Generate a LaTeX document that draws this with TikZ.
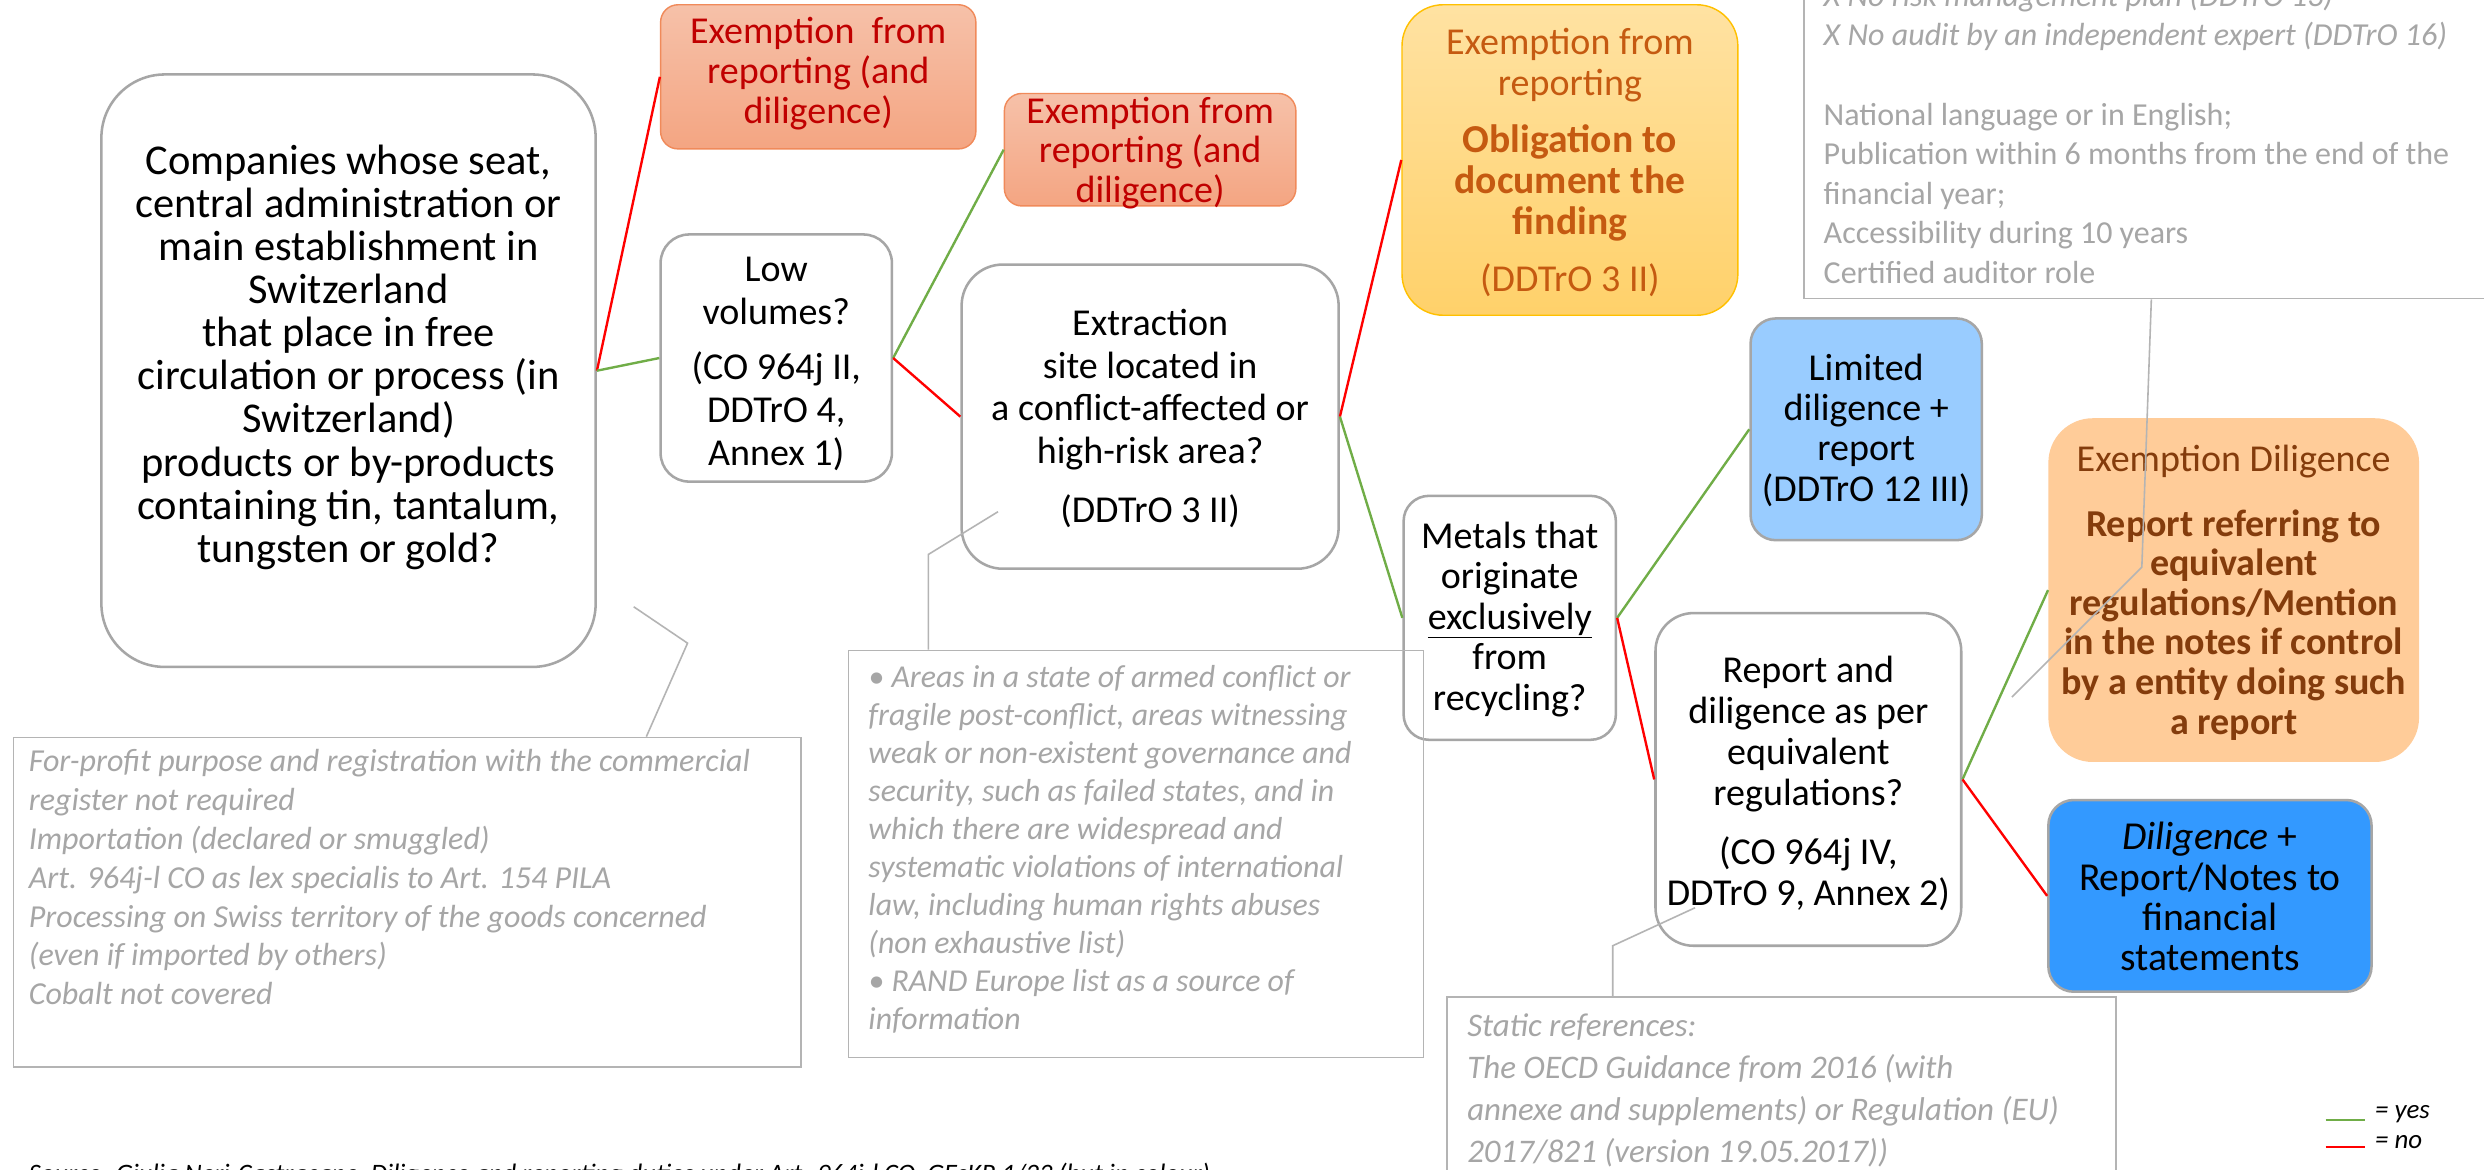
\documentclass[tikz,border=0pt]{standalone}
\usepackage{fontspec}
\setmainfont{Carlito}
\definecolor{boxgray}{HTML}{A6A6A6}
\definecolor{notegray}{HTML}{B4B4B4}
\definecolor{notetext}{HTML}{A6A6A6}
\definecolor{yesgreen}{HTML}{70AD47}
\definecolor{nored}{HTML}{FF0000}
\definecolor{salmontop}{HTML}{F6C1A9}
\definecolor{salmonbot}{HTML}{F4A582}
\definecolor{salmonline}{HTML}{F08A5A}
\definecolor{darkred}{HTML}{C00000}
\definecolor{yeltop}{HTML}{FFE2A2}
\definecolor{yelbot}{HTML}{FFD16A}
\definecolor{yelline}{HTML}{FFC000}
\definecolor{yeltext}{HTML}{C55A11}
\definecolor{lightblue}{HTML}{99CCFF}
\definecolor{midblue}{HTML}{3399FF}
\definecolor{peach}{HTML}{FFCC99}
\definecolor{brown}{HTML}{843C0C}
\begin{document}
\begin{tikzpicture}[x=1pt,y=-1pt,
  qbox/.style={draw=boxgray,line width=1.6pt,fill=white,inner sep=0pt},
  salbox/.style={draw=salmonline,line width=0.9pt,top color=salmontop,bottom color=salmonbot,inner sep=0pt,rounded corners=11pt},
  notebox/.style={draw=notegray,line width=1.1pt,inner sep=0pt},
  txt/.style={align=center,inner sep=0pt},
  notetxt/.style={align=left,inner sep=0pt,anchor=north west,text=notetext},
  yes/.style={draw=yesgreen,line width=1.5pt},
  no/.style={draw=nored,line width=1.5pt},
  callout/.style={draw=notegray,line width=1pt}
]
\useasboundingbox (0,0) rectangle (1568,738);
\clip (0,0) rectangle (1568,738);
\fill[white] (0,0) rectangle (1568,738);

% ---------- boxes ----------
\node[qbox,rounded corners=40pt,minimum width=312pt,minimum height=374pt] (main) at (220,234) {};
\node[salbox,minimum width=199pt,minimum height=91pt] (ex1) at (516.5,48.5) {};
\node[salbox,minimum width=184pt,minimum height=71pt] (ex2) at (726,94.5) {};
\node[qbox,rounded corners=18pt,minimum width=146pt,minimum height=156pt] (low) at (490,226) {};
\node[qbox,rounded corners=26pt,minimum width=238pt,minimum height=192pt] (extr) at (726,263) {};
\node[draw=yelline,line width=0.9pt,top color=yeltop,bottom color=yelbot,inner sep=0pt,rounded corners=26pt,minimum width=212pt,minimum height=196pt] (yel) at (991,101) {};
\node[qbox,fill=lightblue,rounded corners=16pt,minimum width=146pt,minimum height=140pt] (lim) at (1178,271) {};
\node[fill=peach,inner sep=0pt,rounded corners=28pt,minimum width=234pt,minimum height=217pt] (exd) at (1410,372.5) {};
\node[qbox,rounded corners=16pt,minimum width=134pt,minimum height=154pt] (met) at (953,390) {};
\node[qbox,rounded corners=24pt,minimum width=193pt,minimum height=210pt] (rep) at (1141.5,492) {};
\node[qbox,fill=midblue,rounded corners=16pt,minimum width=204pt,minimum height=121pt] (dil) at (1395,565.5) {};

% ---------- connectors ----------
\draw[no]  (main.east) -- (ex1.west);
\draw[yes] (main.east) -- (low.west);
\draw[yes] (low.east) -- (ex2.west);
\draw[no]  (low.east) -- (extr.west);
\draw[no]  (extr.east) -- (yel.west);
\draw[yes] (extr.east) -- (met.west);
\draw[yes] (met.east) -- (lim.west);
\draw[no]  (met.east) -- (rep.west);
\draw[yes] (rep.east) -- (exd.west);
\draw[no]  (rep.east) -- (dil.west);

% ---------- box texts ----------
\node[txt,font={\fontsize{26.8}{27.2}\selectfont}] (tmain) at (220,225.5) {Companies whose seat,\\central administration or\\main establishment in\\Switzerland\\that place in free\\circulation or process (in\\Switzerland)\\products or by-products\\containing tin, tantalum,\\tungsten or gold?};
\node[txt,text=darkred,font={\fontsize{24}{25}\selectfont}] (tex1) at (516.5,46.5) {Exemption~ from\\reporting (and\\diligence)};
\node[txt,text=darkred,font={\fontsize{24}{25}\selectfont}] (tex2) at (726,96.5) {Exemption from\\reporting (and\\diligence)};
\node[txt,font={\fontsize{24}{27}\selectfont}] (tlow) at (490,229.5) {Low\\volumes?\\[8pt](CO 964j II,\\DDTrO 4,\\Annex 1)};
\node[txt,font={\fontsize{24}{27}\selectfont}] (textr) at (726,264) {Extraction\\site located in\\a conflict-affected or\\high-risk area?\\[10pt](DDTrO 3 II)};
\node[txt,text=yeltext,font={\fontsize{24}{26}\selectfont}] (tyel) at (991,102.5) {Exemption from\\reporting\\[10pt]{\fontsize{25}{26}\selectfont\textbf{Obligation to}}\\{\fontsize{25}{26}\selectfont\textbf{document the}}\\{\fontsize{25}{26}\selectfont\textbf{finding}}\\[10pt](DDTrO 3 II)};
\node[txt,font={\fontsize{24}{25.5}\selectfont}] (tlim) at (1178,271.5) {Limited\\diligence +\\report\\(DDTrO 12 III)};
\node[txt,text=brown,font={\fontsize{24}{25}\selectfont}] (texd) at (1410,374) {Exemption Diligence\\[16pt]\textbf{Report referring to}\\\textbf{equivalent}\\\textbf{regulations/Mention}\\\textbf{in the notes if control}\\\textbf{by a entity doing such}\\\textbf{a report}};
\node[txt,font={\fontsize{24}{25.5}\selectfont}] (tmet) at (953,391) {Metals that\\originate\\\underline{exclusively}\\from\\recycling?};
\node[txt,font={\fontsize{24}{26}\selectfont}] (trep) at (1141.5,494.5) {Report and\\diligence as per\\equivalent\\regulations?\\[11pt](CO 964j IV,\\DDTrO 9, Annex 2)};
\node[txt,font={\fontsize{25}{25.5}\selectfont}] (tdil) at (1395,566) {\textit{Diligence} +\\Report/Notes to\\financial\\statements};

% ---------- notes ----------
\node[notebox,minimum width=497pt,minimum height=208pt,anchor=north west] (n1) at (8,465) {};
\node[notebox,minimum width=363pt,minimum height=257pt,anchor=north west] (n2) at (535,410) {};
\node[notebox,minimum width=422pt,minimum height=140pt,anchor=north west] (n3) at (913,629) {};
\node[notebox,minimum width=480pt,minimum height=220pt,anchor=south west] (n4) at (1138,189) {};

\node[notetxt,font={\itshape\fontsize{20.2}{24.5}\selectfont}] (tn1) at (18,473) {For-profit purpose and registration with the commercial\\register not required\\Importation (declared or smuggled)\\Art. 964j-l CO as lex specialis to Art. 154 PILA\\Processing on Swiss territory of the goods concerned\\(even if imported by others)\\Cobalt not covered};
\node[notetxt,font={\itshape\fontsize{20.1}{24}\selectfont}] (tn2) at (548,420) {• Areas in a state of armed conflict or\\fragile post-conflict, areas witnessing\\weak or non-existent governance and\\security, such as failed states, and in\\which there are widespread and\\systematic violations of international\\law, including human rights abuses\\(non exhaustive list)\\• RAND Europe list as a source of\\information};
\node[notetxt,font={\itshape\fontsize{20.8}{26.5}\selectfont}] (tn3) at (926,640) {Static references:\\The OECD Guidance from 2016 (with\\annexe and supplements) or Regulation (EU)\\2017/821 (version 19.05.2017))};
\node[notetxt,font={\fontsize{20.2}{25}\selectfont}] (tn4) at (1151,-11) {\textit{X No risk management plan (DDTrO 13)}\\\textit{X No audit by an independent expert (DDTrO 16)}\\[25pt]National language or in English;\\Publication within 6 months from the end of the\\financial year;\\Accessibility during 10 years\\Certified auditor role};

% ---------- callouts ----------
\coordinate (c1a) at (400,383);
\coordinate (c1b) at (434,406);
\coordinate (c1c) at (408,464);
\draw[callout] (c1a) -- (c1b) -- (c1c |- n1.north);
\coordinate (c2a) at (630,323);
\coordinate (c2b) at (586,350);
\draw[callout] (c2a) -- (c2b) -- (c2b |- n2.north);
\coordinate (c3a) at (1070,573);
\coordinate (c3b) at (1018,597);
\draw[callout] (c3a) -- (c3b) -- (c3b |- n3.north);
\coordinate (c4a) at (1358,189);
\coordinate (c4b) at (1352,358);
\coordinate (c4c) at (1270,440);
\draw[callout] (c4a |- n4.south) -- (c4b) -- (c4c);

% ---------- legend & source ----------
\coordinate (lg1a) at (1468,707);
\coordinate (lg1b) at (1493,707);
\coordinate (lg2a) at (1468,724);
\coordinate (lg2b) at (1493,724);
\draw[yes] (lg1a) -- (lg1b);
\draw[no] (lg2a) -- (lg2b);
\node[anchor=west,inner sep=0pt,font={\itshape\fontsize{17}{18}\selectfont}] (lgy) at (1499,703) {= yes};
\node[anchor=west,inner sep=0pt,font={\itshape\fontsize{17}{18}\selectfont}] (lgn) at (1499,721) {= no};
\node[anchor=west,inner sep=0pt,font={\itshape\fontsize{16.8}{18}\selectfont}] (src) at (18,742) {Source: Giulia Neri-Castracane, Diligence and reporting duties under Art. 964j-l CO, GEsKR 1/23 (but in colour)};
\end{tikzpicture}
\end{document}
